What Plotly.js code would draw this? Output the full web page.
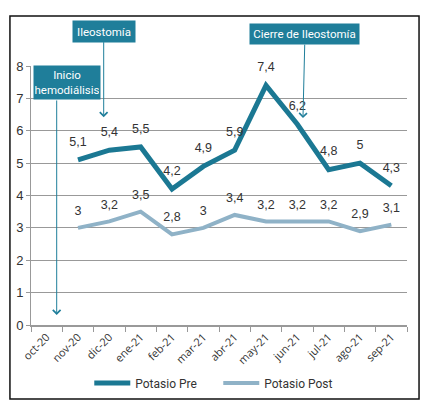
<!DOCTYPE html>
<html>
<head>
<meta charset="utf-8">
<script src="https://cdn.plot.ly/plotly-3.0.1.min.js"></script>
<style>
  html, body { margin: 0; padding: 0; background: #fff; }
  #graph { width: 432px; height: 409px; }
</style>
</head>
<body>
<div id="graph"></div>
<script>
// Datos
const meses = ["oct-20", "nov-20", "dic-20", "ene-21", "feb-21", "mar-21",
  "abr-21", "may-21", "jun-21", "jul-21", "ago-21", "sep-21"];

const potasioPre = [null, 5.1, 5.4, 5.5, 4.2, 4.9, 5.4, 7.4, 6.2, 4.8, 5.0, 4.3];
const potasioPreEtiquetas = ["", "5,1", "5,4", "5,5", "4,2", "4,9", "5,9", "7,4", "6,2", "4,8", "5", "4,3"];

const potasioPost = [null, 3.0, 3.2, 3.5, 2.8, 3.0, 3.4, 3.2, 3.2, 3.2, 2.9, 3.1];

// Colores
const AZUL = "#1b7893";
const AZUL_CLARO = "#8fb2c7";
const CAJA = "#1f7e9a";

// coma decimal
function etiqueta(v) {
  return v === null ? "" : String(v).replace(".", ",");
}

const tracePre = {
  x: meses,
  y: potasioPre,
  name: "Potasio Pre",
  type: "scatter",
  mode: "lines+markers+text",
  line: { color: AZUL, width: 5 },
  marker: { size: 16, color: "rgba(0,0,0,0)" },
  text: potasioPreEtiquetas,
  textposition: "top center",
  textfont: { family: "Liberation Sans, Arial", size: 12.5, color: "#333" },
  cliponaxis: false,
  hoverinfo: "none",
};

const tracePost = {
  x: meses,
  y: potasioPost,
  name: "Potasio Post",
  type: "scatter",
  mode: "lines+markers+text",
  line: { color: AZUL_CLARO, width: 4 },
  marker: { size: 14, color: "rgba(0,0,0,0)" },
  text: potasioPost.map(etiqueta),
  textposition: "top center",
  textfont: { family: "Liberation Sans, Arial", size: 12.5, color: "#333" },
  cliponaxis: false,
  hoverinfo: "none",
};

const fuenteCaja = { family: "Roboto, Liberation Sans", size: 11.5, color: "#fff" };

const layout = {
  width: 432,
  height: 409,
  margin: { l: 31, r: 25, t: 66, b: 84 },
  paper_bgcolor: "#fff",
  plot_bgcolor: "#fff",
  showlegend: true,
  font: { family: "Liberation Sans, Arial", color: "#333" },
  xaxis: {
    type: "category",
    range: [-0.5, 11.5],
    tickson: "boundaries",
    ticks: "outside",
    ticklen: 5,
    tickcolor: "#999",
    tickangle: -45,
    tickfont: { family: "Open Sans, Noto Sans", size: 11, color: "#333" },
    showgrid: false,
    showline: true,
    linecolor: "#999",
    linewidth: 1.5,
    zeroline: false,
    fixedrange: true,
  },
  yaxis: {
    range: [0, 8],
    dtick: 1,
    ticks: "outside",
    ticklen: 4,
    tickcolor: "#999",
    tickfont: { family: "Liberation Sans, Arial", size: 13, color: "#333" },
    showgrid: true,
    gridcolor: "#999",
    gridwidth: 1,
    showline: true,
    linecolor: "#999",
    zeroline: false,
    fixedrange: true,
  },
  legend: {
    orientation: "h",
    x: 0.155,
    xanchor: "left",
    y: -0.224,
    yanchor: "middle",
    itemwidth: 36,
    entrywidth: 78,
    font: { family: "Roboto, Open Sans", size: 12, color: "#333" },
  },
  shapes: [
    {
      type: "rect",
      xref: "paper",
      yref: "paper",
      x0: -0.056,
      x1: 1.032,
      y0: -0.286,
      y1: 1.193,
      line: { color: "#111", width: 1.5 },
    },
  ],
  annotations: [
    {
      // caja Inicio hemodiálisis
      xref: "paper",
      yref: "paper",
      x: 0.097,
      y: 0.936,
      xanchor: "center",
      yanchor: "middle",
      text: "Inicio<br>hemodiálisis",
      showarrow: false,
      bgcolor: CAJA,
      width: 64,
      height: 31,
      borderpad: 1,
      font: fuenteCaja,
    },
    {
      // flecha Inicio hemodiálisis
      x: 0.32,
      y: 0.31,
      text: "",
      showarrow: true,
      ax: 0,
      ay: -216,
      arrowhead: 4,
      arrowsize: 1.5,
      arrowwidth: 1,
      arrowcolor: CAJA,
    },
    {
      x: 1.82,
      y: 6.42,
      text: "Ileostomía",
      showarrow: true,
      ax: 0,
      ay: -86,
      arrowhead: 4,
      arrowsize: 1.5,
      arrowwidth: 1,
      arrowcolor: CAJA,
      bgcolor: CAJA,
      width: 58,
      height: 17,
      borderpad: 2,
      font: fuenteCaja,
    },
    {
      x: 8.18,
      y: 6.39,
      text: "Cierre de Ileostomía",
      showarrow: true,
      ax: 2,
      ay: -84,
      arrowhead: 4,
      arrowsize: 1.5,
      arrowwidth: 1,
      arrowcolor: CAJA,
      bgcolor: CAJA,
      width: 105,
      height: 16,
      borderpad: 2,
      font: fuenteCaja,
    },
  ],
};

Plotly.newPlot("graph", [tracePre, tracePost], layout, { displayModeBar: false, staticPlot: true });
</script>
</body>
</html>
